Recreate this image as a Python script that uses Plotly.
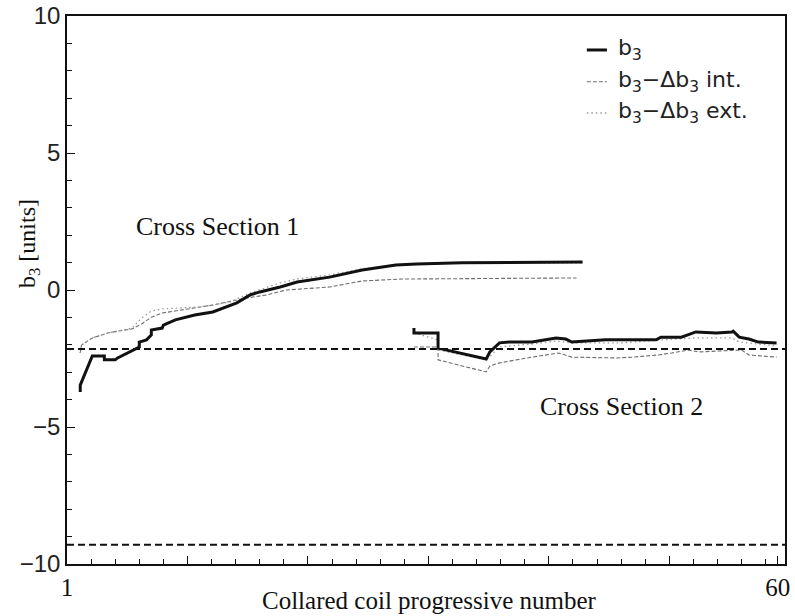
import plotly.graph_objects as go

# ---- Cross Section 1: running b3 and corrected values ----
cs1_b3_x = [2.1, 2.1, 3.1, 4.1, 4.1, 5.0, 5.2, 6.0, 6.6, 7.0, 7.0, 7.6, 8.0, 8.0, 8.9, 9.0,
            10.0, 10.8, 11.6, 13.1, 15.1, 16.2, 17.0, 18.7, 20.1, 22.8, 25.5, 28.3, 30.0,
            33.8, 39.6, 43.8]
cs1_b3_y = [-3.72, -3.47, -2.41, -2.41, -2.55, -2.55, -2.48, -2.30, -2.19, -2.08, -1.90, -1.82,
            -1.64, -1.46, -1.39, -1.28, -1.09, -0.99, -0.91, -0.80, -0.47, -0.18, -0.07, 0.11,
            0.29, 0.47, 0.73, 0.91, 0.95, 0.99, 1.01, 1.02]

cs1_int_x = [2.1, 2.2, 3.1, 4.4, 5.2, 6.4, 7.2, 8.0, 8.9, 10.0, 11.0, 13.1, 15.9, 17.6, 19.2,
             22.8, 25.5, 28.8, 43.3]
cs1_int_y = [-2.30, -2.01, -1.75, -1.57, -1.50, -1.42, -1.24, -0.99, -0.84, -0.77, -0.69, -0.55,
             -0.29, -0.18, 0.00, 0.11, 0.33, 0.40, 0.44]

cs1_ext_x = [2.1, 2.2, 3.1, 4.4, 5.2, 6.4, 7.2, 8.0, 8.9, 10.4, 12.0, 14.5, 16.2, 18.7, 20.1,
             22.8, 25.5, 28.3, 33.8, 43.8]
cs1_ext_y = [-2.30, -2.01, -1.75, -1.57, -1.50, -1.39, -1.02, -0.77, -0.69, -0.66, -0.62, -0.44,
             -0.11, 0.26, 0.40, 0.55, 0.77, 0.91, 0.99, 0.99]

# ---- Cross Section 2 ----
cs2_b3_x = [29.8, 29.8, 31.8, 31.8, 35.8, 36.1, 36.9, 37.7, 39.6, 41.6, 42.4, 42.9, 45.7,
            47.1, 49.9, 50.3, 52.0, 53.2, 54.9, 56.2, 56.3, 56.8, 57.6, 58.4, 59.9]
cs2_b3_y = [-1.39, -1.57, -1.57, -2.12, -2.52, -2.26, -1.93, -1.90, -1.90, -1.75, -1.79, -1.90,
            -1.82, -1.82, -1.82, -1.72, -1.72, -1.53, -1.57, -1.53, -1.50, -1.72, -1.79, -1.90,
            -1.93]

cs2_int_x = [29.8, 31.8, 31.8, 35.8, 36.1, 36.9, 39.6, 41.8, 42.9, 46.6, 47.9, 50.1, 51.2,
             52.6, 53.4, 57.0, 57.6, 59.9]
cs2_int_y = [-2.08, -2.08, -2.55, -2.99, -2.77, -2.66, -2.45, -2.30, -2.45, -2.48, -2.45, -2.37,
             -2.30, -2.19, -2.26, -2.19, -2.37, -2.45]

cs2_ext_x = [29.8, 31.8, 31.8, 35.8, 36.9, 39.6, 41.6, 42.9, 47.1, 50.3, 53.2, 56.2, 56.8,
             59.9]
cs2_ext_y = [-1.57, -1.82, -2.19, -2.55, -2.08, -1.97, -1.86, -1.93, -1.93, -1.82, -1.75,
             -1.75, -1.90, -2.04]

# Reference limits
ref_levels = [-2.15, -9.3]

x_range = [1, 60.6]
x_tick_vals = [1, 11, 21, 31, 41, 51, 60]
x_tick_text = ["1", "", "", "", "", "", "60"]
y_tick_vals = [-10, -5, 0, 5, 10]
y_tick_text = ["\u221210", "\u22125", "0", "5", "10"]

BLACK = "#111111"
INT_GREY = "#6e6e6e"
EXT_GREY = "#9a9a9a"

fig = go.Figure()

for xs, ys in [(cs1_int_x, cs1_int_y), (cs2_int_x, cs2_int_y)]:
    fig.add_trace(go.Scatter(x=xs, y=ys, mode="lines", showlegend=False,
                             line=dict(color=INT_GREY, width=1.1, dash="4px,2px")))
for xs, ys in [(cs1_ext_x, cs1_ext_y), (cs2_ext_x, cs2_ext_y)]:
    fig.add_trace(go.Scatter(x=xs, y=ys, mode="lines", showlegend=False,
                             line=dict(color=EXT_GREY, width=1.3, dash="1.5px,3px")))
for lvl in ref_levels:
    fig.add_trace(go.Scatter(x=x_range, y=[lvl, lvl], mode="lines", showlegend=False,
                             line=dict(color=BLACK, width=2, dash="7px,4px")))
for xs, ys in [(cs1_b3_x, cs1_b3_y), (cs2_b3_x, cs2_b3_y)]:
    fig.add_trace(go.Scatter(x=xs, y=ys, mode="lines", showlegend=False,
                             line=dict(color=BLACK, width=3)))

serif = "Liberation Serif"
sans = "Liberation Sans"
legend_font = "DejaVu Sans"

annotations = [
    dict(x=13.5, y=2.3, xref="x", yref="y", text="Cross Section 1", showarrow=False,
         font=dict(family=serif, size=26, color=BLACK)),
    dict(x=47.0, y=-4.25, xref="x", yref="y", text="Cross Section 2", showarrow=False,
         font=dict(family=serif, size=26, color=BLACK)),
    dict(x=0.505, y=-0.066, xref="paper", yref="paper", text="Collared coil progressive number",
         showarrow=False, xanchor="center", yanchor="middle",
         font=dict(family=serif, size=25, color=BLACK)),
    dict(x=-0.052, y=0.585, xref="paper", yref="paper", text="b<sub>3</sub> [units]",
         showarrow=False, textangle=-90, xanchor="center", yanchor="middle",
         font=dict(family=serif, size=24, color=BLACK)),
]

# Legend drawn as line samples plus labels in the upper right corner
legend_rows = [
    ("b<sub>3</sub>", dict(color=BLACK, width=3, dash="solid"), 0.938),
    ("b<sub>3</sub>\u2212\u0394b<sub>3</sub> int.", dict(color=INT_GREY, width=1.1, dash="4px,2px"), 0.880),
    ("b<sub>3</sub>\u2212\u0394b<sub>3</sub> ext.", dict(color=EXT_GREY, width=1.3, dash="1.5px,3px"), 0.823),
]
shapes = []
for label, ln, yy in legend_rows:
    shapes.append(dict(type="line", xref="paper", yref="paper", x0=0.724, x1=0.752,
                       y0=yy, y1=yy, line=ln))
    annotations.append(dict(x=0.764, y=yy, xref="paper", yref="paper", text=label,
                            showarrow=False, xanchor="left", yanchor="middle",
                            font=dict(family=legend_font, size=22, color="#222222")))

fig.update_layout(
    width=795, height=616,
    margin=dict(l=67, r=10, t=16, b=52, autoexpand=False),
    paper_bgcolor="white", plot_bgcolor="white",
    annotations=annotations, shapes=shapes,
    showlegend=False,
)
fig.update_xaxes(
    range=x_range, showgrid=False, zeroline=False, automargin=False,
    showline=True, linecolor=BLACK, linewidth=1.5, mirror=True,
    tickmode="array", tickvals=x_tick_vals, ticktext=x_tick_text,
    ticks="inside", ticklen=8, tickcolor=BLACK,
    minor=dict(tickmode="linear", tick0=1, dtick=2, ticks="inside", ticklen=5, tickcolor=BLACK),
    tickfont=dict(family=serif, size=25, color=BLACK),
)
fig.update_yaxes(
    range=[-10, 10], showgrid=False, zeroline=False, automargin=False,
    showline=True, linecolor=BLACK, linewidth=1.5, mirror=True,
    tickmode="array", tickvals=y_tick_vals, ticktext=y_tick_text,
    ticks="inside", ticklen=8, tickcolor=BLACK,
    minor=dict(tickmode="linear", tick0=0, dtick=1, ticks="inside", ticklen=5, tickcolor=BLACK),
    tickfont=dict(family=sans, size=24, color="#222222"),
)

fig.write_html("out.html")
